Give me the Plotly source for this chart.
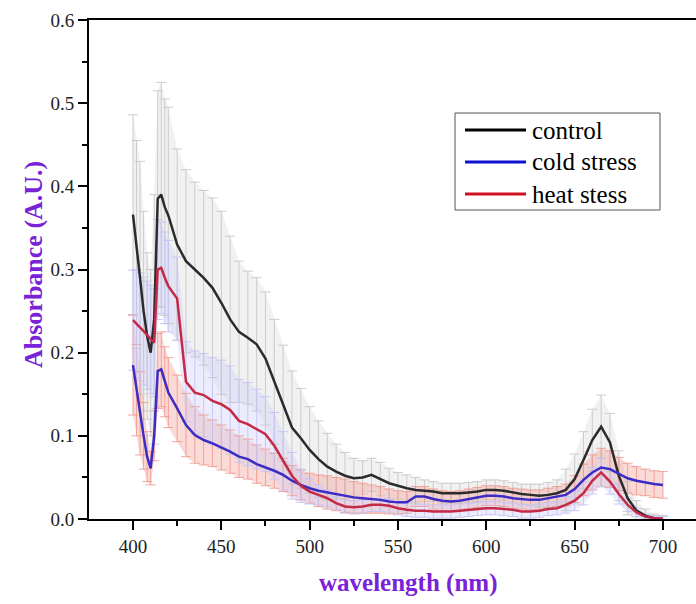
import plotly.graph_objects as go

# ---------------- data ----------------
wavelength = [400, 402, 404, 406, 408, 410, 412, 414, 416, 418, 420,
              425, 430, 435, 440, 445, 450, 455, 460, 465, 470, 475, 480, 485, 490, 495,
              500, 505, 510, 515, 520, 525, 530, 535, 540, 545, 550, 555, 560, 565, 570,
              575, 580, 585, 590, 595, 600, 605, 610, 615, 620, 625, 630, 635, 640, 645,
              650, 655, 660, 665, 670, 675, 680, 685, 690, 695, 700]

control = [0.366, 0.33, 0.29, 0.25, 0.22, 0.20, 0.24, 0.385, 0.39, 0.375, 0.365,
           0.33, 0.31, 0.30, 0.29, 0.278, 0.26, 0.24, 0.225, 0.218, 0.21, 0.193, 0.165, 0.139, 0.11, 0.097,
           0.083, 0.072, 0.063, 0.057, 0.052, 0.049, 0.05, 0.053, 0.048, 0.043, 0.04, 0.037, 0.035, 0.034, 0.033,
           0.031, 0.031, 0.031, 0.032, 0.033, 0.035, 0.035, 0.034, 0.032, 0.03, 0.029, 0.028, 0.029, 0.031, 0.035,
           0.048, 0.071, 0.095, 0.111, 0.092, 0.052, 0.025, 0.01, 0.004, 0.001, 0.0]
control_err = [0.12, 0.125, 0.14, 0.12, 0.1, 0.1, 0.15, 0.13, 0.135, 0.13, 0.13,
               0.115, 0.11, 0.105, 0.105, 0.108, 0.11, 0.1, 0.085, 0.08, 0.08, 0.08, 0.075, 0.07, 0.068, 0.06,
               0.052, 0.046, 0.04, 0.033, 0.028, 0.024, 0.02, 0.02, 0.02, 0.018, 0.016, 0.016, 0.015, 0.013, 0.012,
               0.012, 0.012, 0.012, 0.012, 0.012, 0.012, 0.012, 0.012, 0.012, 0.012, 0.013, 0.014, 0.015, 0.016, 0.025,
               0.03, 0.034, 0.037, 0.038, 0.035, 0.03, 0.02, 0.012, 0.008, 0.005, 0.004]

cold = [0.185, 0.155, 0.127, 0.1, 0.075, 0.061, 0.1, 0.178, 0.18, 0.165, 0.152,
        0.133, 0.113, 0.101, 0.095, 0.091, 0.086, 0.081, 0.075, 0.072, 0.066, 0.062, 0.058, 0.053, 0.046, 0.041,
        0.037, 0.034, 0.032, 0.03, 0.028, 0.026, 0.025, 0.024, 0.023, 0.021, 0.02, 0.02, 0.027, 0.027, 0.024,
        0.022, 0.021, 0.022, 0.024, 0.026, 0.028, 0.028, 0.027, 0.025, 0.024, 0.023, 0.023, 0.025, 0.027, 0.029,
        0.036, 0.047, 0.056, 0.062, 0.06, 0.054, 0.049, 0.046, 0.044, 0.042, 0.041]
cold_err = [0.06, 0.055, 0.05, 0.04, 0.03, 0.02, 0.03, 0.045, 0.045, 0.042, 0.042,
            0.04, 0.038, 0.034, 0.03, 0.028, 0.027, 0.026, 0.025, 0.024, 0.023, 0.022, 0.021, 0.02, 0.018, 0.018,
            0.018, 0.019, 0.02, 0.02, 0.02, 0.019, 0.018, 0.017, 0.016, 0.015, 0.014, 0.013, 0.012, 0.012, 0.012,
            0.012, 0.012, 0.012, 0.012, 0.012, 0.012, 0.012, 0.012, 0.012, 0.012, 0.012, 0.012, 0.012, 0.012, 0.013,
            0.016, 0.019, 0.021, 0.023, 0.022, 0.02, 0.018, 0.017, 0.016, 0.016, 0.016]

heat = [0.239, 0.235, 0.231, 0.226, 0.221, 0.216, 0.212, 0.3, 0.302, 0.29, 0.28,
        0.265, 0.165, 0.152, 0.149, 0.142, 0.138, 0.131, 0.118, 0.114, 0.108, 0.102, 0.088, 0.07, 0.052, 0.04,
        0.033, 0.029, 0.025, 0.019, 0.015, 0.014, 0.015, 0.017, 0.017, 0.016, 0.013, 0.011, 0.01, 0.01, 0.009,
        0.009, 0.009, 0.01, 0.011, 0.012, 0.013, 0.013, 0.012, 0.011, 0.009, 0.009, 0.01, 0.012, 0.013, 0.017,
        0.022, 0.031, 0.046, 0.056, 0.045, 0.03, 0.017, 0.008, 0.003, 0.001, 0.0]
heat_err = [0.06, 0.065, 0.065, 0.065, 0.065, 0.065, 0.065, 0.06, 0.055, 0.055, 0.055,
            0.05, 0.048, 0.05, 0.05, 0.052, 0.053, 0.053, 0.05, 0.05, 0.048, 0.045, 0.04, 0.035, 0.028, 0.02,
            0.015, 0.012, 0.01, 0.008, 0.008, 0.008, 0.008, 0.008, 0.008, 0.008, 0.008, 0.008, 0.008, 0.008, 0.008,
            0.008, 0.008, 0.008, 0.008, 0.008, 0.008, 0.008, 0.008, 0.008, 0.008, 0.008, 0.008, 0.008, 0.008, 0.01,
            0.012, 0.014, 0.016, 0.017, 0.015, 0.012, 0.008, 0.005, 0.003, 0.003, 0.003]

series_names = ["control", "cold stress", "heat stess"]
x_ticks = [400, 450, 500, 550, 600, 650, 700]
y_ticks = [0.0, 0.1, 0.2, 0.3, 0.4, 0.5, 0.6]

# ---------------- styles ----------------
FONT = "Liberation Serif"
PURPLE = "#7A22D8"
line_colors = ["#2b2b2b", "#3a2cc4", "#c42a45"]
legend_colors = ["#000000", "#1010d0", "#d01020"]
err_colors = ["rgba(200,200,200,0.9)", "rgba(240,150,140,0.85)", "rgba(195,195,245,0.9)"]
band_colors = ["rgba(215,215,215,0.35)", "rgba(240,150,140,0.35)", "rgba(200,200,245,0.35)"]

means = [control, cold, heat]
errs = [control_err, cold_err, heat_err]

fig = go.Figure()

# bands
for m, e, bc in zip(means, errs, band_colors):
    lo = [a - b for a, b in zip(m, e)]
    hi = [a + b for a, b in zip(m, e)]
    fig.add_trace(go.Scatter(x=wavelength, y=lo, mode="lines", line=dict(width=0),
                             hoverinfo="skip", showlegend=False))
    fig.add_trace(go.Scatter(x=wavelength, y=hi, mode="lines", line=dict(width=0),
                             fill="tonexty", fillcolor=bc, hoverinfo="skip", showlegend=False))

# error bars
for m, e, ec in zip(means, errs, err_colors):
    fig.add_trace(go.Scatter(x=wavelength, y=m, mode="markers",
                             marker=dict(size=1, opacity=0),
                             error_y=dict(type="data", array=e, visible=True,
                                          color=ec, thickness=1, width=5),
                             hoverinfo="skip", showlegend=False))

# mean lines
for m, lc, nm in zip(means, line_colors, series_names):
    fig.add_trace(go.Scatter(x=wavelength, y=m, mode="lines", name=nm,
                             line=dict(color=lc, width=2.5), showlegend=False))

# ---------------- layout ----------------
L, T, W, H = 89, 20, 696, 604
PR, PB = 696, 519
pw, ph = PR - L, PB - T


def px(xp):
    return (xp - L) / pw


def py(yp):
    return (PB - yp) / ph


shapes = [dict(type="rect", xref="paper", yref="paper",
               x0=px(455), x1=px(660), y0=py(210), y1=py(113),
               line=dict(color="#555555", width=1), fillcolor="white", layer="above")]
annotations = []
for i, (nm, c) in enumerate(zip(series_names, legend_colors)):
    yy = 130 + 32 * i
    shapes.append(dict(type="line", xref="paper", yref="paper",
                       x0=px(465), x1=px(526), y0=py(yy), y1=py(yy),
                       line=dict(color=c, width=3), layer="above"))
    annotations.append(dict(text=nm, xref="paper", yref="paper", x=px(530), y=py(yy),
                            xanchor="left", yanchor="middle", showarrow=False,
                            font=dict(family=FONT, size=25, color="black")))

annotations.append(dict(text="<b>wavelength (nm)</b>", xref="paper", yref="paper",
                        x=px(408), y=py(583), xanchor="center", yanchor="middle",
                        showarrow=False, font=dict(family=FONT, size=25, color=PURPLE)))
annotations.append(dict(text="<b>Absorbance (A.U.)</b>", xref="paper", yref="paper",
                        x=px(33), y=py(265), xanchor="center", yanchor="middle",
                        textangle=-90, showarrow=False,
                        font=dict(family=FONT, size=26, color=PURPLE)))

fig.update_layout(
    width=W, height=H,
    margin=dict(l=L, r=W - PR, t=T, b=H - PB),
    paper_bgcolor="white", plot_bgcolor="white",
    showlegend=False,
    font=dict(family=FONT, size=19, color="black"),
    shapes=shapes, annotations=annotations,
    xaxis=dict(range=[375.1, 718.7], tickvals=x_ticks, ticks="outside", ticklen=9,
               tickwidth=1.5, tickcolor="black", showline=True, linewidth=2,
               linecolor="black", mirror=True, showgrid=False, zeroline=False,
               tickfont=dict(family=FONT, size=19, color="#222"),
               minor=dict(tick0=375, dtick=25, ticks="outside", ticklen=5,
                          tickwidth=1.5, tickcolor="black")),
    yaxis=dict(range=[0, 0.6], tickvals=y_ticks, tickformat=".1f", ticks="outside",
               ticklen=9, tickwidth=1.5, tickcolor="black", showline=True,
               linewidth=2, linecolor="black", showgrid=False, zeroline=False,
               tickfont=dict(family=FONT, size=19, color="#222"),
               minor=dict(dtick=0.05, ticks="outside", ticklen=5, tickwidth=1.5,
                          tickcolor="black")),
)

fig.write_html("out.html", config={"displayModeBar": False},
               post_script="document.body.style.margin='0px';")
